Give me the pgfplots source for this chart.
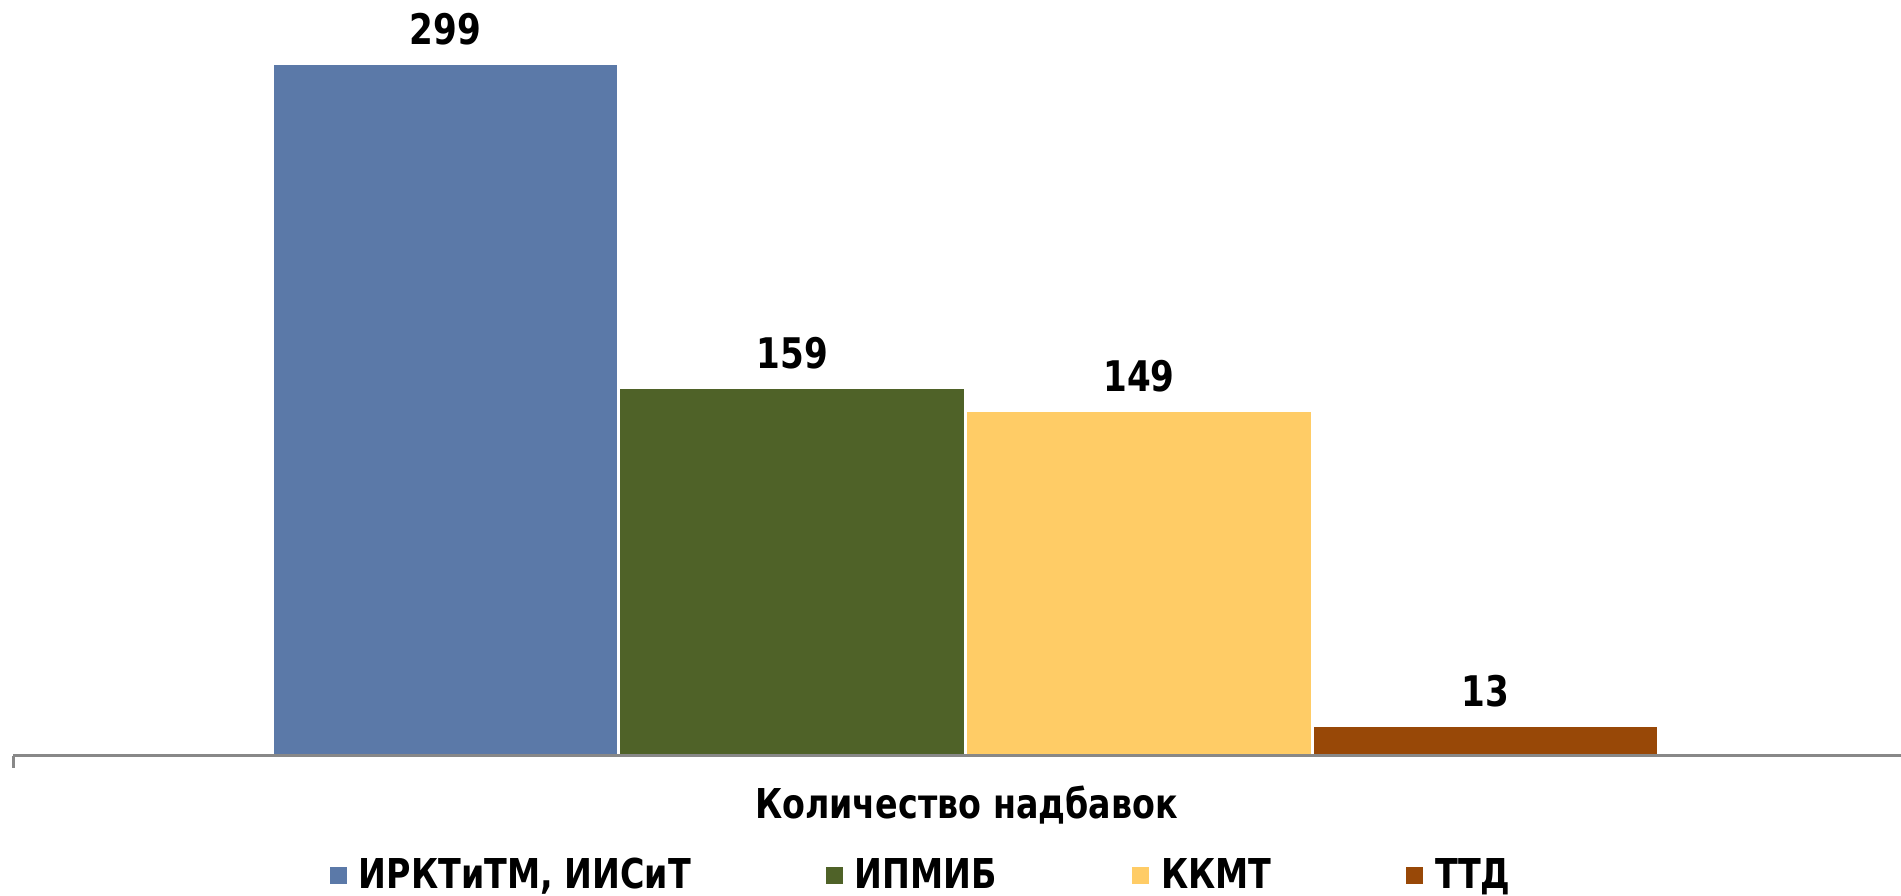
\documentclass[border=0pt]{standalone}
\usepackage{fontspec}
\setmainfont{DejaVu Sans}[FakeStretch=0.81]
\usepackage{pgfplots}
\pgfplotsset{compat=1.18}

\definecolor{barblue}{HTML}{5B79A8}
\definecolor{bargreen}{HTML}{4F6228}
\definecolor{baryellow}{HTML}{FFCC66}
\definecolor{barbrown}{HTML}{984807}
\definecolor{axisgray}{HTML}{888888}

\begin{document}
\begin{tikzpicture}
\useasboundingbox (0,0) rectangle (190.1mm,89.6mm);
\begin{axis}[
    at={(1.3mm,14mm)}, anchor=south west,
    scale only axis,
    width=188.8mm, height=74.05mm,
    xmin=-1.2475, xmax=4.198,
    ymin=0, ymax=320,
    enlargelimits=false,
    clip=false,
    axis on top,
    axis y line=none,
    axis x line*=bottom,
    x axis line style={-, axisgray, line width=0.3mm},
    xtick={-1.2475}, xticklabels={},
    x tick style={axisgray, line width=0.3mm},
    tick align=outside, major tick length=1.2mm,
    ytick=\empty,
    ybar, bar width=0.995, bar shift=0pt,
    /pgf/number format/assume math mode=true,
    font=\fontsize{11.7}{14}\selectfont\bfseries,
    nodes near coords,
    every node near coord/.append style={anchor=south, inner sep=0pt, yshift=1.8mm,
        font=\fontsize{12}{14}\selectfont\bfseries, text=black},
    xlabel={Количество надбавок},
    xlabel style={at={(axis description cs:0.505,0)}, anchor=base, yshift=-6.3mm,
        inner sep=0pt, font=\fontsize{11.7}{14}\selectfont\bfseries},
    legend columns=4,
    legend image code/.code={\path[#1, draw=none] (0mm,-0.85mm) rectangle (1.7mm,0.85mm);},
    legend style={draw=none, fill=none, inner sep=0pt, outer sep=0pt,
        at={(axis description cs:0.1679,-0.1377)}, anchor=north west,
        nodes={inner sep=0pt},
        font=\fontsize{11.7}{14}\selectfont\bfseries,
        /tikz/every odd column/.append style={column sep=1.2mm},
        /tikz/every even column/.append style={column sep=13.5mm}},
]
\addplot[fill=barblue, draw=white, line width=0.15mm] coordinates {(0,299)};
\addplot[fill=bargreen, draw=white, line width=0.15mm] coordinates {(1,159)};
\addplot[fill=baryellow, draw=white, line width=0.15mm] coordinates {(2,149)};
\addplot[fill=barbrown, draw=white, line width=0.15mm] coordinates {(3,13)};
\legend{{ИРКТиТМ, ИИСиТ}, ИПМИБ, ККМТ, ТТД}
\end{axis}
\end{tikzpicture}
\end{document}
